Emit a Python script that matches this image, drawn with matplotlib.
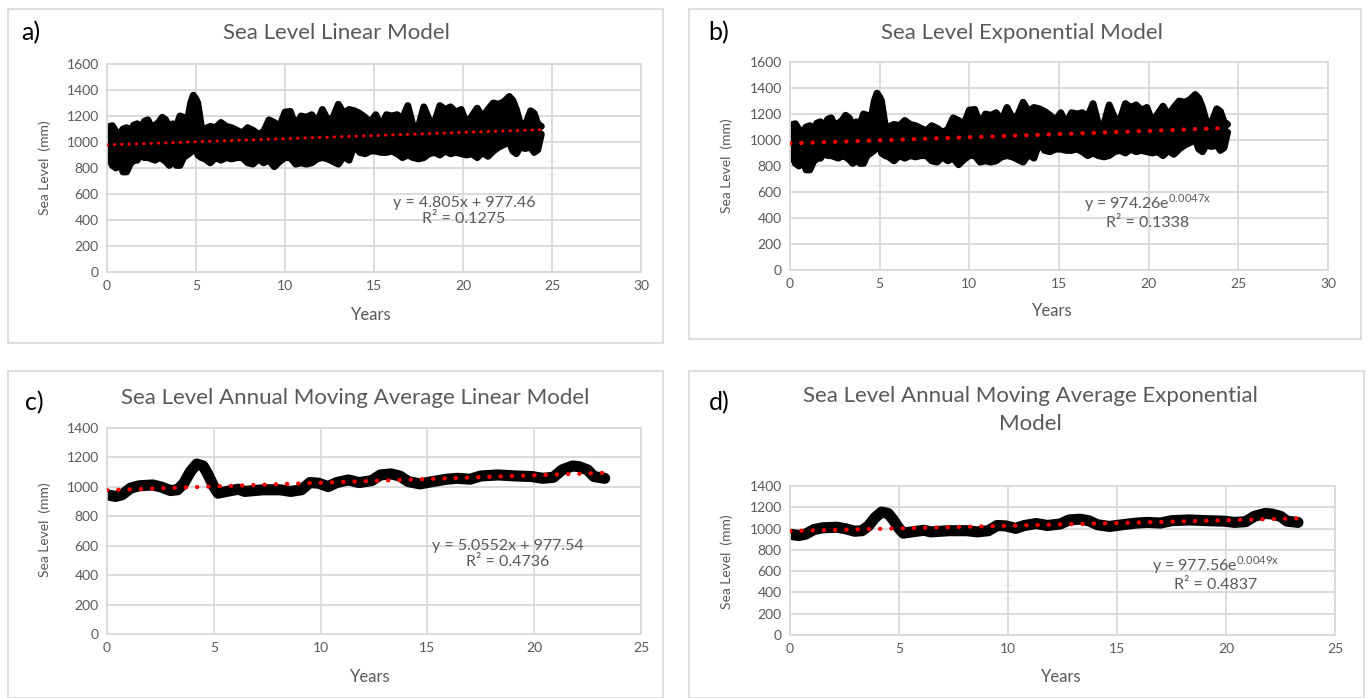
import matplotlib
matplotlib.use("Agg")
import matplotlib.pyplot as plt
from matplotlib.patches import Rectangle
import numpy as np

plt.rcParams['font.family'] = ['Lato', 'DejaVu Sans']

# ---------------- data ----------------
# raw sea level band (panels a, b): years, upper and lower envelope (mm)
raw_years = [0.0, 0.15, 0.3, 0.5, 0.7, 0.9, 1.1, 1.3, 1.5, 1.7, 1.9, 2.1, 2.3, 2.5, 2.7, 2.9,
             3.1, 3.3, 3.5, 3.7, 3.9, 4.1, 4.3, 4.5, 4.7, 4.85, 5.0, 5.1, 5.3, 5.5, 5.8, 6.1,
             6.4, 6.7, 7.0, 7.3, 7.6, 7.9, 8.2, 8.5, 8.8, 9.1, 9.4, 9.7, 10.0, 10.3, 10.6, 10.9,
             11.2, 11.5, 11.8, 12.1, 12.4, 12.7, 13.0, 13.3, 13.6, 13.9, 14.2, 14.5, 14.8, 15.1,
             15.4, 15.7, 16.0, 16.3, 16.6, 16.9, 17.2, 17.5, 17.8, 18.1, 18.4, 18.7, 19.0, 19.3,
             19.6, 19.9, 20.2, 20.5, 20.8, 21.1, 21.4, 21.7, 22.0, 22.3, 22.6, 22.8, 23.0, 23.2,
             23.5, 23.8, 24.0, 24.2, 24.4]
raw_high = [1050, 1120, 1125, 1080, 1060, 1100, 1110, 1080, 1130, 1140, 1100, 1160, 1170, 1110, 1130, 1150,
            1190, 1170, 1110, 1140, 1120, 1200, 1190, 1150, 1300, 1360, 1330, 1300, 1120, 1100, 1120, 1110,
            1150, 1120, 1110, 1090, 1070, 1110, 1090, 1060, 1080, 1170, 1150, 1120, 1230, 1235, 1120, 1200,
            1190, 1210, 1150, 1250, 1170, 1190, 1290, 1220, 1250, 1240, 1220, 1190, 1150, 1210,
            1120, 1210, 1200, 1210, 1180, 1280, 1120, 1120, 1270, 1170, 1150, 1280, 1250, 1270,
            1230, 1250, 1140, 1200, 1260, 1190, 1250, 1300, 1290, 1310, 1350, 1320, 1250, 1150,
            1130, 1240, 1220, 1140, 1120]
raw_low = [960, 870, 820, 800, 850, 770, 770, 830, 860, 860, 900, 880, 880, 870, 860, 880,
           870, 850, 820, 850, 820, 820, 880, 900, 920, 950, 1020, 900, 880, 870, 840, 880,
           860, 880, 870, 880, 880, 840, 830, 870, 840, 860, 810, 850, 880, 880, 830, 840,
           830, 840, 870, 880, 870, 850, 830, 890, 860, 980, 920, 910, 930, 930,
           920, 920, 930, 910, 880, 900, 880, 870, 880, 910, 920, 900, 930, 910,
           920, 910, 900, 910, 880, 920, 890, 930, 960, 980, 1000, 930, 910, 960,
           950, 960, 920, 940, 1060]

# annual moving average (panels c, d)
ma_years = [0.0, 0.4, 0.7, 1.1, 1.5, 2.15, 2.55, 2.97, 3.3, 3.6, 3.9, 4.2, 4.5, 4.7, 5.0, 5.2,
            5.6, 6.15, 6.45, 7.3, 8.1, 8.6, 9.1, 9.5, 9.9, 10.35, 10.75, 11.3, 11.8, 12.4, 12.8,
            13.3, 13.7, 14.1, 14.65, 15.25, 15.9, 16.4, 17.0, 17.5, 18.3, 19.15, 19.9, 20.4,
            20.9, 21.3, 21.8, 22.1, 22.5, 22.8, 23.3]
ma_level = [946, 935, 946, 991, 1007, 1013, 998, 975, 980, 1025, 1103, 1155, 1142, 1092, 1002, 957,
            969, 984, 969, 980, 980, 969, 980, 1029, 1025, 1002, 1029, 1047, 1029, 1043, 1081,
            1088, 1074, 1036, 1020, 1036, 1052, 1058, 1052, 1074, 1081, 1074, 1070, 1058,
            1065, 1115, 1142, 1137, 1115, 1070, 1058]

# trendline coefficients
lin_a = (4.805, 977.46)
exp_b = (974.26, 0.0047)
lin_c = (5.0552, 977.54)
exp_d = (977.56, 0.0049)

titles = ["Sea Level Linear Model", "Sea Level Exponential Model",
          "Sea Level Annual Moving Average Linear Model",
          "Sea Level Annual Moving Average Exponential\nModel"]
panel_tags = ["a)", "b)", "c)", "d)"]
eq_texts = ["y = 4.805x + 977.46\nR² = 0.1275",
            "y = 974.26e$^{\\mathregular{0.0047x}}$\nR² = 0.1338",
            "y = 5.0552x + 977.54\nR² = 0.4736",
            "y = 977.56e$^{\\mathregular{0.0049x}}$\nR² = 0.4837"]

# ---------------- figure ----------------
W, H = 1369, 698
fig = plt.figure(figsize=(W / 100, H / 100), dpi=100)
fig.patch.set_facecolor('white')

TXT = '#595959'
GRID = '#d9d9d9'


def fx(px):
    return px / W


def fy(py):
    return 1 - py / H


def panel_box(l, t, r, b):
    fig.add_artist(Rectangle((fx(l), fy(b)), fx(r - l), (b - t) / H, transform=fig.transFigure,
                             facecolor='white', edgecolor='#d9d9d9', lw=1.2, zorder=-5))


def make_axes(l, t, r, b):
    ax = fig.add_axes([fx(l), fy(b), fx(r - l), (b - t) / H])
    for s in ax.spines.values():
        s.set_color(GRID)
        s.set_linewidth(1.3)
    ax.grid(True, color=GRID, lw=1.3)
    ax.set_axisbelow(True)
    ax.tick_params(length=0, colors=TXT, labelsize=10, pad=6)
    return ax


panel_box(8, 9, 663, 343)
panel_box(689, 9, 1361, 339)
panel_box(8, 371, 663, 698)
panel_box(689, 371, 1364, 698)

axes_px = [(107, 64, 641, 272), (790, 62, 1328, 270), (107, 428, 641, 634), (790, 486, 1335, 635)]
axs = [make_axes(*p) for p in axes_px]

for i, ax in enumerate(axs[:2]):
    ax.fill_between(raw_years, raw_low, raw_high, color='black', lw=0, zorder=2)
    ax.plot(raw_years, raw_high, color='black', lw=5, solid_joinstyle='round', solid_capstyle='round', zorder=2)
    ax.plot(raw_years, raw_low, color='black', lw=5, solid_joinstyle='round', solid_capstyle='round', zorder=2)
    ax.set_xlim(0, 30)
    ax.set_ylim(0, 1600)
    ax.set_xticks(range(0, 31, 5))
    ax.set_yticks(range(0, 1601, 200))

tx = np.linspace(raw_years[0], raw_years[-1], 50)
dot_style = dict(color='#ff0000', dash_capstyle='round', zorder=3)
axs[0].plot(tx, lin_a[0] * tx + lin_a[1], lw=2.2, linestyle=(0, (0.1, 2.3)), **dot_style)
axs[1].plot(tx, exp_b[0] * np.exp(exp_b[1] * tx), lw=3.0, linestyle=(0, (0.1, 2.6)), **dot_style)

mx = np.linspace(ma_years[0], ma_years[-1], 50)
for ax in axs[2:]:
    ax.plot(ma_years, ma_level, color='black', lw=8, solid_joinstyle='round', solid_capstyle='round', zorder=2)
    ax.set_xlim(0, 25)
    ax.set_ylim(0, 1400)
    ax.set_xticks(range(0, 26, 5))
    ax.set_yticks(range(0, 1401, 200))
axs[2].plot(mx, lin_c[0] * mx + lin_c[1], lw=3.0, linestyle=(0, (0.1, 2.6)), **dot_style)
axs[3].plot(mx, exp_d[0] * np.exp(exp_d[1] * mx), lw=3.0, linestyle=(0, (0.1, 2.6)), **dot_style)

# titles, tags, labels
title_pos = [(336, 33), (1022, 33), (355, 398), (1030, 410)]
tag_pos = [(31, 33), (719, 33), (34, 403), (719, 403)]
ylab_pos = [(45, 168), (727, 166), (45, 530), (727, 562)]
xlab_pos = [(371, 315), (1052, 311), (370, 677), (1061, 677)]
eq_pos = [(464, 211), (1148, 211), (508, 554), (1216, 573)]
for i in range(4):
    fig.text(fx(title_pos[i][0]), fy(title_pos[i][1]), titles[i], ha='center', va='center',
             fontsize=16, color=TXT, linespacing=1.5)
    fig.text(fx(tag_pos[i][0]), fy(tag_pos[i][1]), panel_tags[i], ha='center', va='center',
             fontsize=18, color='black')
    fig.text(fx(ylab_pos[i][0]), fy(ylab_pos[i][1]), "Sea Level  (mm)", ha='center', va='center',
             rotation=90, fontsize=10, color=TXT)
    fig.text(fx(xlab_pos[i][0]), fy(xlab_pos[i][1]), "Years", ha='center', va='center',
             fontsize=12, color=TXT)
    fig.text(fx(eq_pos[i][0]), fy(eq_pos[i][1]), eq_texts[i], ha='center', va='center',
             fontsize=11.5, color=TXT, linespacing=1.2)

fig.savefig("out.png", dpi=100, facecolor='white')
